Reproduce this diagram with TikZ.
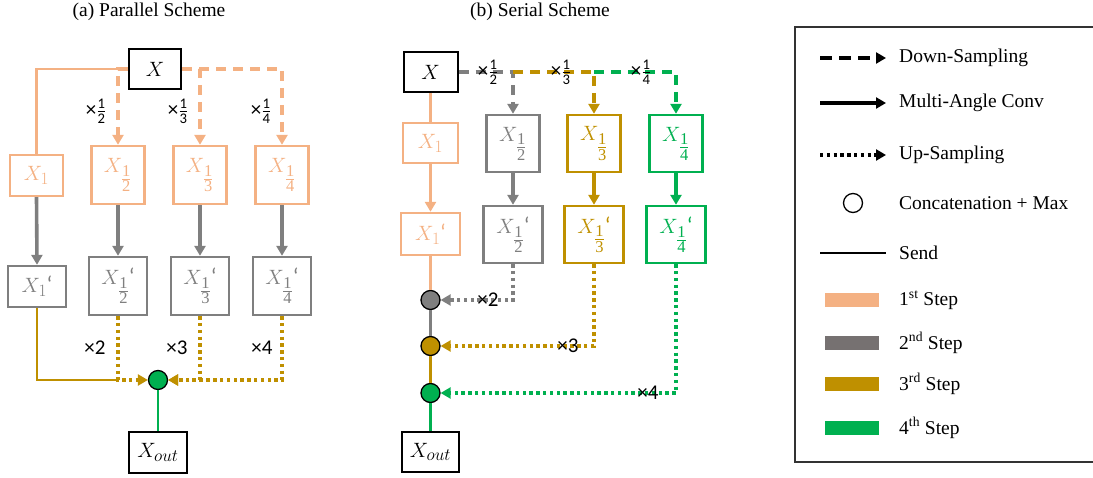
\documentclass[tikz,border=0pt]{standalone}
\usepackage{fontspec}
\usepackage{amsmath}
\setmainfont{Liberation Serif}
\usetikzlibrary{arrows.meta}
\newfontfamily\labfont{Carlito}
\DeclareMathSizes{20.5}{20.5}{16.5}{12}
\definecolor{peach}{HTML}{F4B183}
\definecolor{stone}{HTML}{7F7F7F}
\definecolor{stonekey}{HTML}{767171}
\definecolor{gold}{HTML}{BF9000}
\definecolor{leaf}{HTML}{00B050}
% fraction for the scale labels
\newcommand{\fr}[2]{\frac{\text{#1}}{\text{#2}}}
% fraction used as a subscript inside the boxes
\newcommand{\sfr}[2]{\genfrac{}{}{}{1}{\mathrm{#1}}{\mathrm{#2}}}
% the mark after a processed feature map
\newcommand{\pmark}{\kern-0.5pt{\labfont\fontsize{23}{23}\selectfont ‘}}
\begin{document}
\begin{tikzpicture}[x=1pt,y=-1pt,
  stepbox/.style={draw, line width=2.4pt, inner sep=0pt, font=\fontsize{20.5}{24}\selectfont},
  inbox/.style={stepbox, line width=2pt},
  headtip/.style={-{Triangle[length=10pt,width=11pt]}},
  dstroke/.style={line width=3.4pt, dash pattern=on 10pt off 7pt, headtip},
  cstroke/.style={line width=3.6pt, headtip},
  ustroke/.style={line width=3.4pt, dash pattern=on 3.4pt off 3.4pt, headtip},
  sstroke/.style={line width=2.2pt},
  mergedot/.style={circle, draw=black, line width=1.3pt, minimum size=19pt, inner sep=0pt},
  factor/.style={font=\labfont\fontsize{21}{24}\selectfont, inner sep=0pt},
  heading/.style={font=\fontsize{19.5}{22}\selectfont},
  keytext/.style={font=\fontsize{19.5}{22}\selectfont, anchor=west, inner sep=0pt},
  swatch/.style={minimum width=54pt, minimum height=14pt, inner sep=0pt}]
\useasboundingbox (0,0) rectangle (1093,478);

% ---------- (a) parallel scheme ----------
\node[heading] (ta) at (149,12) {(a) Parallel Scheme};
\node[inbox, minimum width=52pt, minimum height=40pt] (pX) at (155,69) {$X$};
\node[stepbox, peach, minimum width=53pt, minimum height=41pt] (p1) at (36.5,175.5) {$X_1$};
\node[stepbox, peach, minimum width=53pt, minimum height=58pt] (p2) at (118,175) {$X_{\sfr{1}{2}}$};
\node[stepbox, peach, minimum width=53pt, minimum height=58pt] (p3) at (200,175) {$X_{\sfr{1}{3}}$};
\node[stepbox, peach, minimum width=53pt, minimum height=58pt] (p4) at (282,175) {$X_{\sfr{1}{4}}$};
\node[stepbox, stone, minimum width=58pt, minimum height=41pt] (q1) at (37,286.5) {$X_1$\pmark};
\node[stepbox, stone, minimum width=58pt, minimum height=58pt] (q2) at (118,286) {$X_{\sfr{1}{2}}$\pmark};
\node[stepbox, stone, minimum width=58pt, minimum height=58pt] (q3) at (200,286) {$X_{\sfr{1}{3}}$\pmark};
\node[stepbox, stone, minimum width=58pt, minimum height=58pt] (q4) at (282,286) {$X_{\sfr{1}{4}}$\pmark};
\node[mergedot, fill=leaf] (pc) at (158,380) {};
\node[inbox, minimum width=58pt, minimum height=41pt] (pO) at (158,452.5) {$X_{out}$};

\draw[sstroke, peach] (pX.west) -| (p1.north);
\draw[dstroke, peach] (pX.west) -| (p2.north);
\draw[dstroke, peach] (pX.east) -| (p3.north);
\draw[dstroke, peach] (pX.east) -| (p4.north);
\foreach \i in {1,2,3,4} \draw[cstroke, stone] (p\i.south) -- (q\i.north);
\draw[sstroke, gold] (q1.south) |- (q2.south |- pc.center);
\draw[ustroke, gold] (q2.south) |- (pc.west);
\draw[ustroke, gold] (q4.south) |- (pc.east);
\draw[ustroke, gold] (q3.south) |- (pc.east);
\draw[sstroke, leaf] (pc) -- (pO);

\node[factor] (ld2) at (96,111) {×$\fr{1}{2}$};
\node[factor] (ld3) at (178,111) {×$\fr{1}{3}$};
\node[factor] (ld4) at (261,111) {×$\fr{1}{4}$};
\node[factor] (lu2) at (95,348) {×2};
\node[factor] (lu3) at (177,348) {×3};
\node[factor] (lu4) at (262,348) {×4};

% ---------- (b) serial scheme ----------
\node[heading] (tb) at (540,12) {(b) Serial Scheme};
\node[inbox, minimum width=54pt, minimum height=40pt] (sX) at (430.5,72) {$X$};
\node[stepbox, peach, minimum width=55pt, minimum height=40pt] (s1) at (430.5,143) {$X_1$};
\node[stepbox, stone, minimum width=53pt, minimum height=57pt] (s2) at (513,143.5) {$X_{\sfr{1}{2}}$};
\node[stepbox, gold, minimum width=53pt, minimum height=57pt] (s3) at (594,143.5) {$X_{\sfr{1}{3}}$};
\node[stepbox, leaf, minimum width=53pt, minimum height=57pt] (s4) at (676,143.5) {$X_{\sfr{1}{4}}$};
\node[stepbox, peach, minimum width=59pt, minimum height=42pt] (t1) at (430.5,234) {$X_1$\pmark};
\node[stepbox, stone, minimum width=59pt, minimum height=57pt] (t2) at (513,234.5) {$X_{\sfr{1}{2}}$\pmark};
\node[stepbox, gold, minimum width=59pt, minimum height=57pt] (t3) at (594,234.5) {$X_{\sfr{1}{3}}$\pmark};
\node[stepbox, leaf, minimum width=59pt, minimum height=57pt] (t4) at (676,234.5) {$X_{\sfr{1}{4}}$\pmark};
\node[mergedot, fill=stone] (c2) at (430.5,300) {};
\node[mergedot, fill=gold] (c3) at (430.5,346) {};
\node[mergedot, fill=leaf] (c4) at (430.5,393) {};
\node[inbox, minimum width=57pt, minimum height=40pt] (sO) at (430.5,452) {$X_{out}$};

\draw[sstroke, peach] (sX) -- (s1);
\draw[dstroke, stone] (sX.east) -| (s2.north);
\draw[dstroke, gold] (s2.north |- sX.east) -| (s3.north);
\draw[dstroke, leaf] (s3.north |- sX.east) -| (s4.north);
\draw[cstroke, peach] (s1) -- (t1);
\draw[cstroke, stone] (s2) -- (t2);
\draw[cstroke, gold] (s3) -- (t3);
\draw[cstroke, leaf] (s4) -- (t4);
\draw[sstroke, peach] (t1) -- (c2);
\draw[sstroke, stone] (c2) -- (c3);
\draw[sstroke, gold] (c3) -- (c4);
\draw[sstroke, leaf] (c4) -- (sO);
\draw[ustroke, stone] (t2.south) |- (c2.east);
\draw[ustroke, gold] (t3.south) |- (c3.east);
\draw[ustroke, leaf] (t4.south) |- (c4.east);

\node[factor] (sd2) at (488,72) {×$\fr{1}{2}$};
\node[factor] (sd3) at (561,72) {×$\fr{1}{3}$};
\node[factor] (sd4) at (641,72) {×$\fr{1}{4}$};
\node[factor] (su2) at (488,300) {×2};
\node[factor] (su3) at (568,346) {×3};
\node[factor] (su4) at (648,393) {×4};

% ---------- legend ----------
\draw[line width=1.4pt, black!80] (1093,27) -- (795,27) -- (795,462) -- (1093,462);
\coordinate (k1a) at (820,58);  \coordinate (k1b) at (886,58);
\coordinate (k2a) at (820,103); \coordinate (k2b) at (886,103);
\coordinate (k3a) at (820,155); \coordinate (k3b) at (886,155);
\coordinate (k5a) at (820,253); \coordinate (k5b) at (886,253);
\draw[dstroke, black, dash pattern=on 12pt off 7pt] (k1a) -- (k1b);
\draw[cstroke, black] (k2a) -- (k2b);
\draw[ustroke, black] (k3a) -- (k3b);
\node[mergedot, fill=white] (k4) at (853,203) {};
\draw[line width=1.5pt, black] (k5a) -- (k5b);
\node[swatch, fill=peach] (k6) at (852,300) {};
\node[swatch, fill=stonekey] (k7) at (852,343) {};
\node[swatch, fill=gold] (k8) at (852,384) {};
\node[swatch, fill=leaf] (k9) at (852,428) {};
\node[keytext] (n1) at (899,58) {Down-Sampling};
\node[keytext] (n2) at (899,103) {Multi-Angle Conv};
\node[keytext] (n3) at (899,155) {Up-Sampling};
\node[keytext] (n4) at (899,203) {Concatenation + Max};
\node[keytext] (n5) at (899,253) {Send};
\node[keytext] (n6) at (899,300) {1\textsuperscript{st} Step};
\node[keytext] (n7) at (899,343) {2\textsuperscript{nd} Step};
\node[keytext] (n8) at (899,384) {3\textsuperscript{rd} Step};
\node[keytext] (n9) at (899,428) {4\textsuperscript{th} Step};
\end{tikzpicture}
\end{document}
